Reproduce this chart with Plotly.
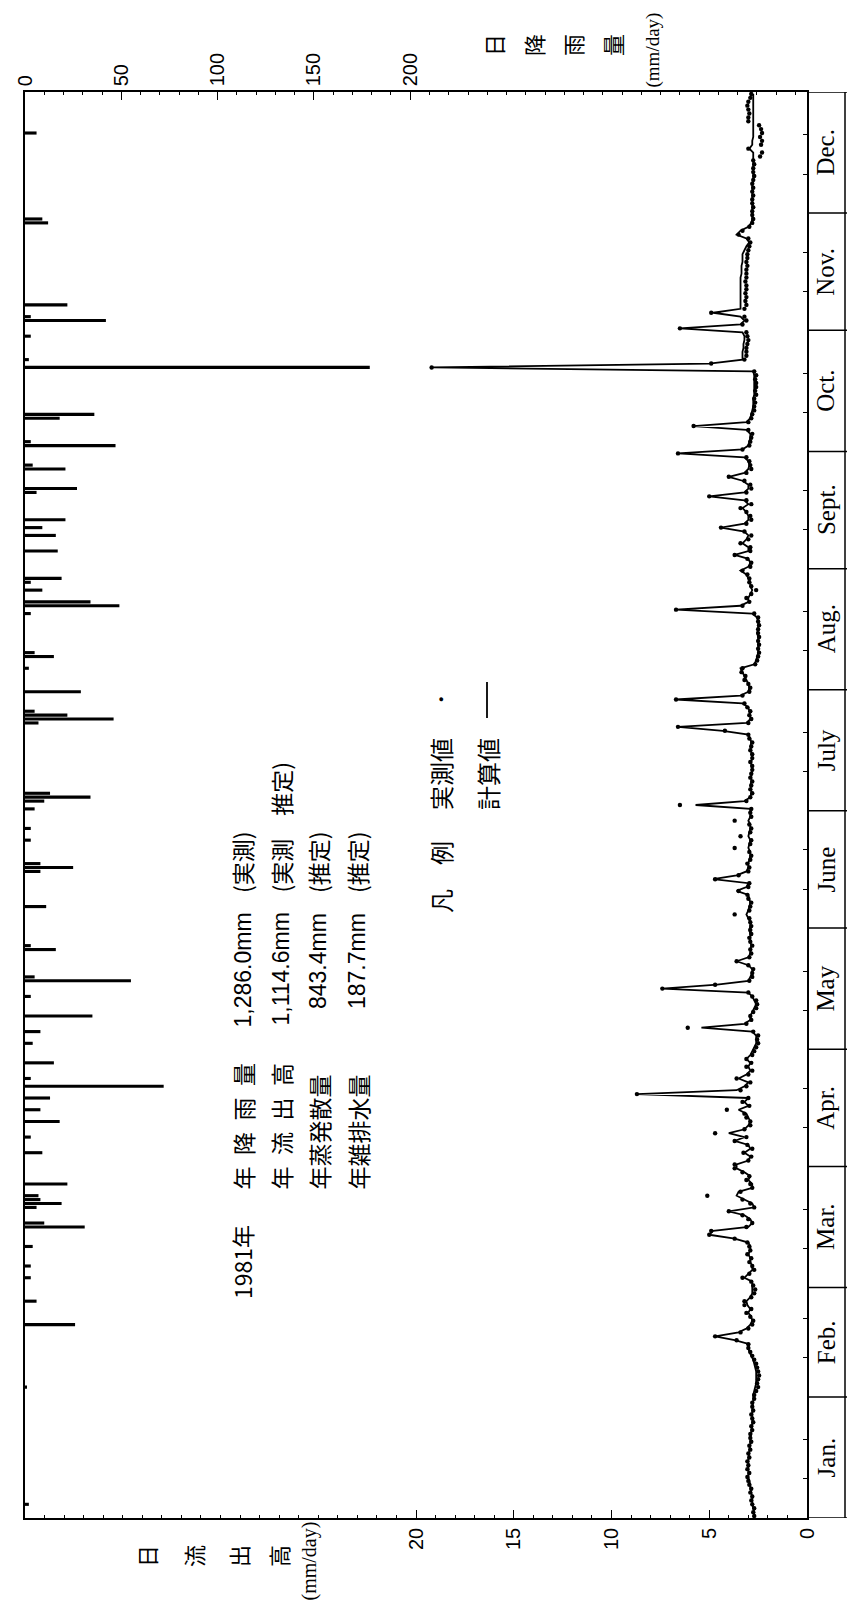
import plotly.graph_objects as go

# ---------------- data ----------------
months = ["Jan.", "Feb.", "Mar.", "Apr.", "May", "June", "July", "Aug.", "Sept.", "Oct.", "Nov.", "Dec."]
month_days = [31, 28, 31, 30, 31, 30, 31, 31, 30, 31, 30, 31]

# daily rainfall (day index from Jan 1 = 0, mm/day)
rain_day = [3, 33, 49, 55, 61, 64, 69, 74, 75, 79, 80, 81, 82, 85, 93, 97, 101, 104, 107, 110,
            112, 116, 121, 124, 128, 133, 137, 138, 145, 146, 156, 165, 166, 167, 173, 176, 181, 183, 184, 185,
            203, 204, 205, 206, 211, 217, 220, 221, 231, 233, 234, 237, 239, 240, 247, 251, 253, 255, 262, 263,
            268, 269, 274, 275, 281, 282, 294, 296, 302, 306, 307, 310, 331, 332, 354]
rain_mm = [2, 1, 26, 6, 3, 3, 4, 31, 10, 6, 19, 8, 7, 22, 9, 3, 18, 8, 13, 72,
           3, 15, 4, 8, 35, 3, 55, 5, 16, 3, 11, 8, 25, 8, 3, 3, 5, 10, 34, 13,
           7, 46, 22, 5, 29, 2, 15, 5, 3, 49, 34, 9, 3, 19, 17, 16, 9, 21, 6, 27,
           21, 4, 47, 3, 18, 36, 179, 2, 3, 42, 3, 22, 12, 9, 6]

# computed daily runoff (mm/day)
calc_jan = [2.7, 2.7, 2.75, 2.8, 2.8, 2.8, 2.85, 2.9, 2.9, 2.95, 3.0, 3.0, 3.0, 3.0, 3.0, 3.0, 2.95, 2.95, 2.9, 2.9,
            2.9, 2.85, 2.85, 2.8, 2.8, 2.8, 2.8, 2.8, 2.8, 2.75, 2.75]
calc_feb = [2.75, 2.7, 2.65, 2.6, 2.6, 2.6, 2.6, 2.65, 2.7, 2.75, 2.85, 2.95, 3.0, 2.95, 3.7, 4.7, 3.5, 3.1, 2.9, 2.8,
            2.85, 3.0, 2.9, 3.05, 3.1, 2.9, 2.8, 2.8]
calc_mar = [2.8, 2.8, 3.2, 3.0, 2.8, 2.8, 2.9, 2.9, 3.0, 2.9, 2.9, 3.0, 3.7, 5.0, 4.8, 3.0, 2.8, 2.9, 3.2, 4.0,
            2.7, 2.8, 3.2, 3.6, 3.5, 2.8, 2.8, 3.0, 2.9, 3.2, 3.6]
calc_apr = [3.6, 3.0, 2.9, 3.2, 2.9, 3.0, 3.7, 3.2, 4.0, 3.2, 3.0, 2.9, 3.0, 3.1, 3.5, 3.0, 3.2, 3.0, 8.7, 3.6,
            3.2, 3.0, 3.5, 3.1, 2.9, 3.0, 2.9, 3.1, 2.9, 2.8]
calc_may = [2.7, 2.6, 2.6, 2.6, 2.8, 5.4, 3.2, 2.9, 2.9, 2.8, 2.7, 2.6, 2.7, 2.8, 3.0, 7.4, 4.6, 3.0, 2.9, 2.8,
            2.8, 3.0, 3.6, 3.0, 2.9, 2.9, 2.85, 2.9, 2.9, 2.9, 2.95]
calc_jun = [2.9, 2.9, 3.0, 3.1, 3.0, 2.95, 2.9, 2.95, 3.0, 3.6, 3.1, 3.0, 4.8, 3.6, 3.1, 3.0, 3.0, 2.95, 2.9, 2.9,
            3.0, 2.95, 2.9, 3.0, 2.95, 2.9, 2.9, 3.0, 2.9, 2.9]
calc_jul = [2.9, 5.7, 3.2, 2.9, 2.85, 2.85, 2.9, 2.85, 2.85, 2.85, 2.8, 2.85, 2.85, 2.8, 2.85, 2.85, 2.9, 2.85, 2.9, 3.0,
            4.3, 6.6, 3.1, 2.9, 2.9, 2.95, 3.0, 3.3, 6.7, 3.4, 3.0]
calc_aug = [2.95, 3.0, 3.1, 3.2, 3.3, 3.4, 2.7, 2.6, 2.55, 2.5, 2.5, 2.5, 2.5, 2.5, 2.55, 2.5, 2.5, 2.5, 2.55, 2.8,
            6.7, 3.4, 3.0, 3.0, 2.9, 2.8, 2.9, 2.9, 3.0, 3.1, 3.4]
calc_sep = [3.0, 2.9, 3.0, 3.7, 3.0, 3.0, 3.3, 3.1, 3.0, 3.2, 4.4, 3.2, 3.0, 3.0, 3.1, 3.3, 3.0, 3.2, 5.0, 3.2,
            3.0, 3.0, 3.3, 4.0, 3.2, 3.0, 2.95, 3.0, 3.2, 6.6]
calc_oct = [3.3, 3.0, 2.95, 2.9, 2.9, 3.1, 5.8, 3.1, 2.9, 2.85, 2.8, 2.75, 2.75, 2.75, 2.7, 2.7, 2.7, 2.7, 2.7, 2.7,
            2.75, 19.2, 5.0, 3.3, 3.3, 3.3, 3.25, 3.25, 3.2, 3.2, 3.3]
calc_nov = [6.5, 3.4, 3.2, 3.4, 4.8, 3.4, 3.4, 3.4, 3.4, 3.4, 3.4, 3.4, 3.4, 3.4, 3.35, 3.35, 3.35, 3.3, 3.3, 3.3,
            3.2, 3.1, 2.95, 3.1, 3.6, 3.4, 3.0, 2.85, 2.8, 2.8]
calc_dec = [2.8, 2.8, 2.8, 2.8, 2.8, 2.8, 2.8, 2.8, 2.75, 2.75, 2.75, 2.75, 2.75, 2.75, 2.75, 2.75, 2.95, 2.8, 2.8, 2.75,
            2.75, 2.75, 2.75, 2.75, 2.75, 2.75, 2.75, 2.75, 2.75, 2.75, 2.75]

# observed daily runoff (mm/day)
obs_jan = [2.7, 2.75, 2.7, 2.8, 2.85, 2.8, 2.9, 2.85, 2.95, 3.0, 3.05, 2.95, 3.05, 3.0, 3.05, 2.95, 3.0, 2.9, 2.95, 2.85,
           2.9, 2.9, 2.8, 2.85, 2.75, 2.8, 2.85, 2.75, 2.8, 2.8, 2.7]
obs_feb = [2.7, 2.6, 2.5, 2.55, 2.5, 2.45, 2.5, 2.55, 2.6, 2.7, 2.8, 2.9, 3.0, 3.0, 3.6, 4.7, 3.4, 3.0, 2.8, 2.75,
           2.9, 3.1, 2.85, 3.2, 3.2, 2.85, 2.7, 2.65]
obs_mar = [2.75, 2.85, 3.3, 2.95, 2.7, 2.8, 2.95, 2.85, 3.05, 2.9, 2.95, 3.05, 3.7, 5.0, 4.9, 3.1, 2.8, 3.0, 3.3, 4.0,
           2.7, 2.9, 3.3, 5.1, 3.4, 2.8, 2.9, 3.1, 2.95, 3.3, 3.7]
obs_apr = [3.7, 3.0, 2.85, 3.25, 2.8, 3.05, 3.7, 3.1, 4.7, 3.2, 2.9, 2.9, 3.1, 3.2, 4.1, 2.95, 3.3, 3.0, 8.7, 3.4,
           3.1, 2.9, 3.6, 3.0, 2.8, 3.1, 2.85, 3.1, 2.8, 2.7]
obs_may = [2.6, 2.5, 2.55, 2.5, 2.75, 6.1, 3.1, 2.85, 2.9, 2.75, 2.6, 2.55, 2.6, 2.8, 3.0, 7.4, 4.7, 2.95, 2.8, 2.8,
           2.75, 3.0, 3.6, 2.95, 2.85, 2.9, 2.8, 2.9, 2.95, 2.85, 2.9]
obs_jun = [2.85, 2.9, 2.95, 3.7, 2.95, 2.9, 2.85, 3.0, 3.05, 3.5, 3.0, 2.95, 4.7, 3.5, 3.0, 2.95, 3.05, 2.9, 2.85, 2.95,
           3.7, 2.9, 2.85, 3.4, 2.9, 2.85, 2.95, 3.7, 2.85, 2.9]
obs_jul = [2.85, 6.5, 3.1, 2.9, 2.8, 2.9, 2.85, 2.8, 2.9, 2.85, 2.8, 2.8, 2.9, 2.8, 2.8, 2.9, 2.85, 2.8, 2.95, 3.0,
           4.2, 6.6, 3.0, 2.85, 2.95, 2.9, 3.05, 3.2, 6.7, 3.3, 2.95]
obs_aug = [2.9, 3.0, 3.2, 3.15, 3.35, 3.3, 2.65, 2.55, 2.5, 2.45, 2.5, 2.45, 2.5, 2.45, 2.5, 2.5, 2.45, 2.5, 2.5, 2.7,
           6.7, 3.3, 2.95, 3.1, 2.85, 2.6, 2.85, 2.95, 2.95, 3.05, 3.3]
obs_sep = [2.9, 2.85, 3.05, 3.7, 2.9, 2.9, 3.4, 3.0, 2.85, 3.2, 4.4, 3.1, 2.85, 2.9, 3.1, 3.4, 2.85, 3.1, 5.0, 3.1,
           2.85, 2.9, 3.2, 4.0, 3.1, 2.85, 2.9, 2.95, 3.1, 6.6]
obs_oct = [3.3, 2.95, 2.9, 2.85, 2.8, 3.0, 5.8, 3.0, 2.85, 2.8, 2.7, 2.7, 2.65, 2.7, 2.6, 2.65, 2.6, 2.6, 2.65, 2.6,
           2.7, 19.2, 4.9, 3.2, 3.1, 3.1, 3.1, 3.05, 3.0, 3.05, 3.1]
obs_nov = [6.5, 3.3, 3.1, 3.2, 4.9, 3.2, 3.1, 3.15, 3.1, 3.15, 3.1, 3.1, 3.15, 3.1, 3.1, 3.1, 3.05, 3.1, 3.05, 3.05,
           3.0, 2.95, 2.9, 3.0, 3.5, 3.3, 2.95, 2.8, 2.75, 2.8]
obs_dec = [2.8, 2.75, 2.8, 2.8, 2.75, 2.8, 2.75, 2.8, 2.75, 2.7, 2.75, 2.75, 2.7, 2.75, 2.4, 2.3, 3.0, 2.35, 2.3, 2.4,
           2.3, 2.35, 2.45, 3.0, 3.0, 2.95, 3.0, 3.05, 3.0, 2.9, 2.85]

summary_labels = ["年\u2002降\u2002雨\u2002量", "年\u2002流\u2002出\u2002高", "年蒸発散量", "年雑排水量"]
summary_values = ["1,286.0mm", "1,114.6mm", "843.4mm", "187.7mm"]
summary_notes = ["(実測)", "(実測\u3000推定)", "(推定)", "(推定)"]

# ---------------- assemble ----------------
calc = (calc_jan + calc_feb + calc_mar + calc_apr + calc_may + calc_jun + calc_jul + calc_aug + calc_sep
        + calc_oct + calc_nov + calc_dec)
obs = (obs_jan + obs_feb + obs_mar + obs_apr + obs_may + obs_jun + obs_jul + obs_aug + obs_sep
       + obs_oct + obs_nov + obs_dec)
ndays = sum(month_days)
day_pos = [d + 0.5 for d in range(ndays)]
month_start = [sum(month_days[:i]) for i in range(12)]

W, H = 847, 1608
L, R, T, B = 25, 807, 92, 1518
BOXR = 845


def px(x):
    return (x - L) / (R - L)


def py(y):
    return (B - y) / (B - T)


CJK = "Noto Sans CJK JP"
SANS = "Liberation Sans"
SERIF = "Liberation Serif"

fig = go.Figure()
fig.add_trace(go.Bar(x=rain_mm, y=[d + 0.5 for d in rain_day], orientation="h", width=0.8,
                     marker=dict(color="black", line=dict(width=0)), xaxis="x", yaxis="y",
                     showlegend=False))
fig.add_trace(go.Scatter(x=calc, y=day_pos, mode="lines", line=dict(color="black", width=1.8),
                         xaxis="x2", yaxis="y", showlegend=False))
fig.add_trace(go.Scatter(x=obs, y=day_pos, mode="markers", marker=dict(color="black", size=4.4),
                         xaxis="x2", yaxis="y", showlegend=False))

annots = []


def txt(s, x, y, size, fam, xa="center", ya="middle", angle=-90):
    annots.append(dict(text=s, x=px(x), y=py(y), xref="paper", yref="paper", xanchor=xa, yanchor=ya,
                       textangle=angle, showarrow=False, borderpad=0,
                       font=dict(size=size, family=fam, color="black")))


# top title
for c, x in zip("日降雨量", [493, 533, 572, 612]):
    txt(c, x, 45, 22, CJK)
txt("(mm/day)", 652, 89, 19, SERIF, ya="bottom")
# bottom-left title
for c, x in zip("日流出高", [146, 193, 238, 278]):
    txt(c, x, 1556, 22, CJK)
txt("(mm/day)", 309, 1521, 20, SERIF, ya="top")

# summary block
cols = [242, 280, 318, 357]
txt("1981年", cols[0], 1300, 23, CJK, ya="bottom")
for i in range(4):
    txt(summary_labels[i], cols[i], 1191, 23, CJK, ya="bottom")
    txt(summary_values[i], cols[i], 912, 23, SANS, ya="top")
    txt(summary_notes[i], cols[i], 894, 23, CJK, ya="bottom")

# legend
txt("凡\u3000例", 440, 914, 24, CJK, ya="bottom")
txt("実測値", 440, 811, 24, CJK, ya="bottom")
txt("計算値", 487, 811, 24, CJK, ya="bottom")
txt("●", 441, 700, 9, SANS)

# month labels
for i, m in enumerate(months):
    annots.append(dict(text=m, x=px((R + BOXR) / 2), y=month_start[i] + month_days[i] / 2,
                       xref="paper", yref="y", xanchor="center", yanchor="middle", textangle=-90,
                       showarrow=False, font=dict(size=25, family=SERIF, color="black")))

shapes = []
# legend line glyph
shapes.append(dict(type="line", xref="paper", yref="paper", x0=px(487), x1=px(487), y0=py(682), y1=py(718),
                   line=dict(color="black", width=1.8)))
# month box
for b in month_start + [ndays]:
    shapes.append(dict(type="line", xref="paper", yref="y", x0=1, x1=px(BOXR + 2), y0=b, y1=b,
                       line=dict(color="black", width=1.5)))
shapes.append(dict(type="line", xref="paper", yref="y", x0=px(BOXR), x1=px(BOXR), y0=0, y1=ndays,
                   line=dict(color="black", width=1.5)))

dekads = [s + k for s in month_start for k in (10, 20)]

fig.update_layout(
    width=W, height=H,
    margin=dict(l=L, r=W - R, t=T, b=H - B, pad=0),
    paper_bgcolor="white", plot_bgcolor="white",
    showlegend=False,
    annotations=annots, shapes=shapes,
    xaxis=dict(range=[0, 406], side="top", anchor="y", showline=True, linecolor="black", linewidth=1.5,
               ticks="inside", ticklen=8, tickwidth=1.2, tickcolor="black",
               tickvals=[0, 50, 100, 150, 200], ticktext=["0", "50", "100", "150", "200"],
               tickangle=-90, tickfont=dict(size=20, family=SANS, color="black"),
               showgrid=False, zeroline=False, fixedrange=True,
               minor=dict(ticks="inside", ticklen=3, dtick=10, tick0=0, tickcolor="black", tickwidth=1,
                          showgrid=False)),
    xaxis2=dict(range=[40, 0], overlaying="x", side="bottom", anchor="y", showline=True, linecolor="black",
                linewidth=1.5, ticks="inside", ticklen=8, tickwidth=1.2, tickcolor="black",
                tickvals=[0, 5, 10, 15, 20], ticktext=["0", "5", "10", "15", "20"],
                tickangle=-90, tickfont=dict(size=20, family=SANS, color="black"),
                showgrid=False, zeroline=False, fixedrange=True,
                minor=dict(ticks="inside", ticklen=3, dtick=1, tick0=0, tickcolor="black", tickwidth=1,
                           showgrid=False)),
    yaxis=dict(range=[0, ndays], side="right", showline=True, mirror=True, linecolor="black", linewidth=1.5,
               ticks="inside", ticklen=4, tickcolor="black", tickvals=dekads, showticklabels=False,
               showgrid=False, zeroline=False, fixedrange=True),
)

fig.write_html("out.html", config={"displayModeBar": False},
               post_script="document.body.style.margin='0';document.body.style.overflow='hidden';")
